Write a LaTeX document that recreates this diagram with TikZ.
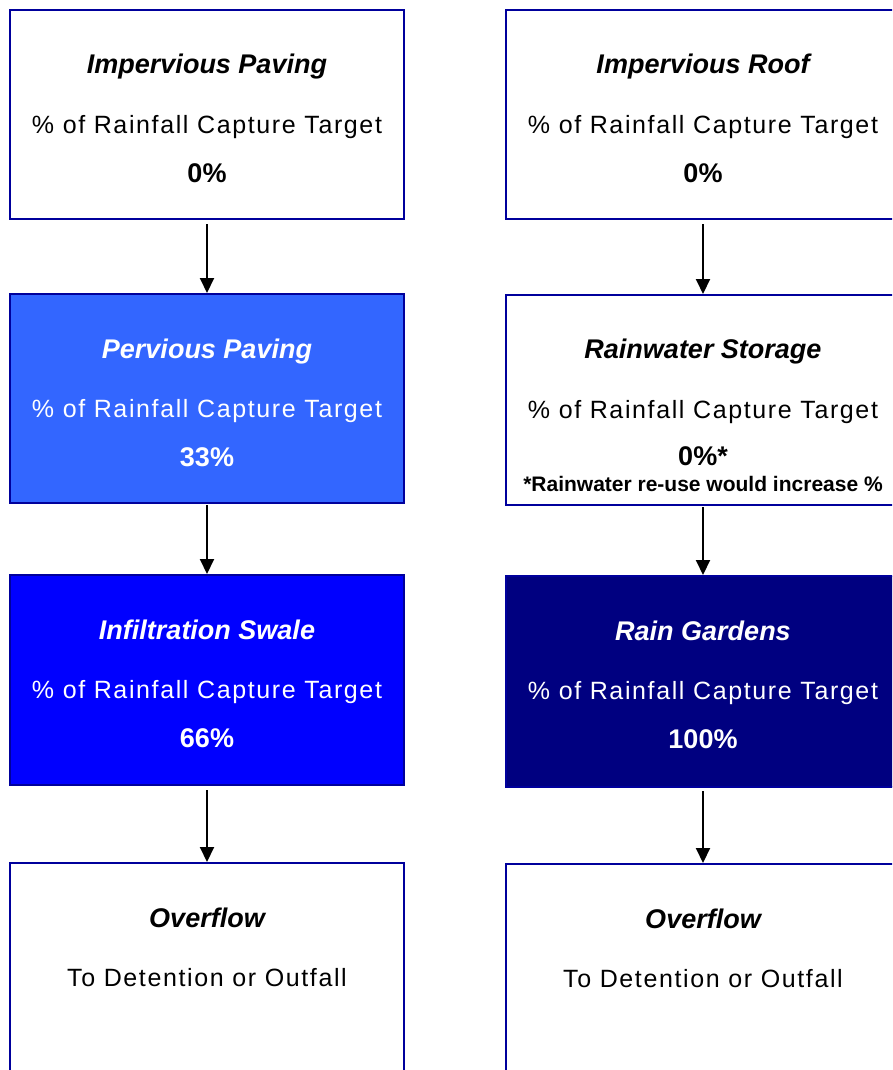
\documentclass[tikz,border=0pt]{standalone}
\usepackage{fontspec}
\setmainfont{Liberation Sans}
\newfontfamily\subfont[LetterSpace=6.5]{Liberation Sans}
\usetikzlibrary{arrows.meta}
\definecolor{bordc}{HTML}{00009C}
\definecolor{pervc}{HTML}{3366FF}
\definecolor{infc}{HTML}{0000FF}
\definecolor{rgc}{HTML}{000080}
\tikzset{
 box/.style={draw=bordc, line width=2pt, minimum width=394pt, minimum height=#1, anchor=north west, inner sep=0pt},
 ttl/.style={font=\fontsize{27}{32}\selectfont\bfseries\itshape, anchor=base},
 subt/.style={font=\subfont\fontsize{25}{30}\selectfont, anchor=base},
 val/.style={font=\fontsize{27}{32}\selectfont\bfseries, anchor=base},
 notetxt/.style={font=\fontsize{21}{25}\selectfont\bfseries, anchor=base},
 flow/.style={line width=2pt, -{Triangle[width=14pt,length=15pt]}}
}
\begin{document}
\begin{tikzpicture}[x=1pt,y=-1pt]
\useasboundingbox (0,0) rectangle (892,1070);
\clip (0,0) rectangle (892,1070);
% left column
\node[box=209pt] (l1) at (9,9) {};
\node[box=209pt, fill=pervc] (l2) at (9,293) {};
\node[box=210pt, fill=infc] (l3) at (9,574) {};
\node[box=250pt] (l4) at (9,862) {};
% right column
\node[box=209pt] (r1) at (505,9) {};
\node[box=210pt] (r2) at (505,294) {};
\node[box=211pt, fill=rgc] (r3) at (505,575) {};
\node[box=250pt] (r4) at (505,863) {};
% texts left
\node[ttl] (l1t) at ([yshift=-65pt]l1.north) {Impervious Paving};
\node[subt] (l1s) at ([yshift=-124pt]l1.north) {\% of Rainfall Capture Target};
\node[val] (l1v) at ([yshift=-173pt]l1.north) {0\%};
\node[ttl, text=white] (l2t) at ([yshift=-65pt]l2.north) {Pervious Paving};
\node[subt, text=white] (l2s) at ([yshift=-124pt]l2.north) {\% of Rainfall Capture Target};
\node[val, text=white] (l2v) at ([yshift=-173pt]l2.north) {33\%};
\node[ttl, text=white] (l3t) at ([yshift=-65pt]l3.north) {Infiltration Swale};
\node[subt, text=white] (l3s) at ([yshift=-124pt]l3.north) {\% of Rainfall Capture Target};
\node[val, text=white] (l3v) at ([yshift=-173pt]l3.north) {66\%};
\node[ttl] (l4t) at ([yshift=-65pt]l4.north) {Overflow};
\node[subt] (l4s) at ([yshift=-124pt]l4.north) {To Detention or Outfall};
% texts right
\node[ttl] (r1t) at ([yshift=-65pt]r1.north) {Impervious Roof};
\node[subt] (r1s) at ([yshift=-124pt]r1.north) {\% of Rainfall Capture Target};
\node[val] (r1v) at ([yshift=-173pt]r1.north) {0\%};
\node[ttl] (r2t) at ([yshift=-64pt]r2.north) {Rainwater Storage};
\node[subt] (r2s) at ([yshift=-124pt]r2.north) {\% of Rainfall Capture Target};
\node[val] (r2v) at ([yshift=-171pt]r2.north) {0\%*};
\node[notetxt] (r2n) at ([yshift=-197pt]r2.north) {*Rainwater re-use would increase \%};
\node[ttl, text=white] (r3t) at ([yshift=-65pt]r3.north) {Rain Gardens};
\node[subt, text=white] (r3s) at ([yshift=-124pt]r3.north) {\% of Rainfall Capture Target};
\node[val, text=white] (r3v) at ([yshift=-173pt]r3.north) {100\%};
\node[ttl] (r4t) at ([yshift=-65pt]r4.north) {Overflow};
\node[subt] (r4s) at ([yshift=-124pt]r4.north) {To Detention or Outfall};
% arrows
\draw[flow] ([yshift=-4pt]l1.south) -- (l2.north);
\draw[flow] ([yshift=-1pt]l2.south) -- (l3.north);
\draw[flow] ([yshift=-4pt]l3.south) -- (l4.north);
\draw[flow] ([yshift=-4pt]r1.south) -- (r2.north);
\draw[flow] ([yshift=-1pt]r2.south) -- (r3.north);
\draw[flow] ([yshift=-3pt]r3.south) -- (r4.north);
\end{tikzpicture}
\end{document}
